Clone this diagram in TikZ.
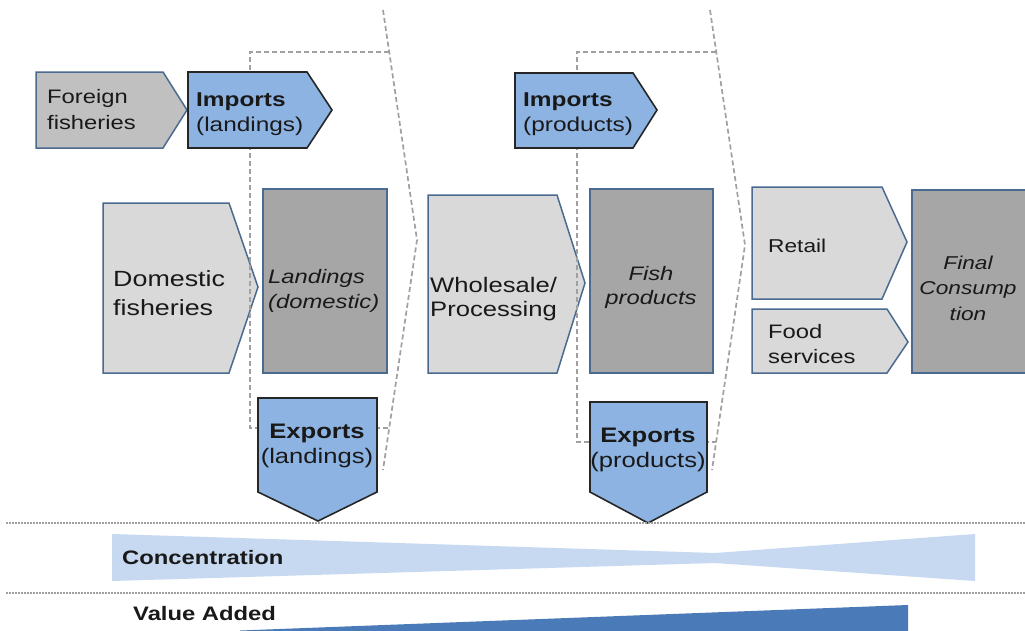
\documentclass[tikz,border=0pt]{standalone}
\usepackage{fontspec}
\setmainfont{Liberation Sans}[FakeStretch=1.22]
\newcommand\lftlines[2]{\vtop{\baselineskip=#1\relax\halign{##\hfil\cr#2\crcr}}}
\newcommand\ctrlines[2]{\vtop{\baselineskip=#1\relax\halign{\hfil##\hfil\cr#2\crcr}}}
\definecolor{lgray}{HTML}{D9D9D9}
\definecolor{mgray}{HTML}{C0C0C0}
\definecolor{dgray}{HTML}{A6A6A6}
\definecolor{bfill}{HTML}{8DB3E2}
\definecolor{bedge}{HTML}{4A6B8F}
\definecolor{dashc}{HTML}{A0A0A0}
\definecolor{dotc}{HTML}{A0A0A0}
\definecolor{concc}{HTML}{C6D9F1}
\definecolor{valc}{HTML}{4A7AB8}
\tikzset{
  grayshape/.style={draw=bedge, line width=1.5pt, line join=miter},
  blueshape/.style={draw=black!85, fill=bfill, line width=1.6pt, line join=miter},
  chevline/.style={draw=dashc, line width=1.7pt, dash pattern=on 5pt off 3pt},
  sepline/.style={draw=dotc, line width=1.2pt, dash pattern=on 1.5pt off 1.5pt},
  txt/.style={inner sep=0pt, text=black!90},
}
\begin{document}
\begin{tikzpicture}[x=1pt,y=-1pt]
\useasboundingbox[fill=white] (0,0) rectangle (1025,630);

% light gray process arrows
\draw[grayshape, fill=mgray] (36,72) -- (163,72) -- (187,110) -- (163,148) -- (36,148) -- cycle;
\draw[grayshape, fill=lgray] (103,203) -- (229,203) -- (258,287) -- (229,373) -- (103,373) -- cycle;
\draw[grayshape, fill=lgray] (428,195) -- (557,195) -- (585,283) -- (557,373) -- (428,373) -- cycle;
\draw[grayshape, fill=lgray] (752,187) -- (882,187) -- (907,242) -- (882,299) -- (752,299) -- cycle;
\draw[grayshape, fill=lgray] (752,309) -- (887,309) -- (908,342) -- (887,373) -- (752,373) -- cycle;

% dark gray boxes
\draw[grayshape, fill=dgray] (263,189) rectangle (387,373);
\draw[grayshape, fill=dgray] (590,189) rectangle (713,373);
\draw[grayshape, fill=dgray] (912,190) rectangle (1040,373);

% dashed chevrons
\draw[chevline] (383,10) -- (417,240) -- (383,470);
\draw[chevline] (389,52) -- (250,52) -- (250,428) -- (389,428);
\draw[chevline] (710,10) -- (745,245) -- (712,470);
\draw[chevline] (716,52) -- (577,52) -- (577,442) -- (716,442);

% blue import / export shapes
\draw[blueshape] (188,72) -- (307,72) -- (332,110) -- (307,148) -- (188,148) -- cycle;
\draw[blueshape] (515,73) -- (633,73) -- (657,110) -- (633,148) -- (515,148) -- cycle;
\draw[blueshape] (258,398) -- (377,398) -- (377,492) -- (318,521) -- (258,492) -- cycle;
\draw[blueshape] (590,402) -- (707,402) -- (707,492) -- (648,523) -- (590,492) -- cycle;

% separators
\draw[sepline] (6,523) -- (1025,523);
\draw[sepline] (6,593) -- (1025,593);

% concentration band and value added wedge
\fill[concc] (112,534) -- (715,553) -- (975,534) -- (975,581) -- (715,563) -- (112,581) -- cycle;
\fill[valc] (240,630.5) -- (908,605) -- (908,632) -- (240,632) -- cycle;

% texts
\node[txt, anchor=base west, font=\fontsize{19.5}{24}\selectfont] (foreign) at (47,103) {\lftlines{26pt}{Foreign\cr fisheries}};
\node[txt, anchor=base west, font=\fontsize{20}{24}\selectfont] (impl) at (196,106) {\lftlines{25pt}{\textbf{Imports}\cr (landings)}};
\node[txt, anchor=base west, font=\fontsize{20}{24}\selectfont] (impp) at (523,106) {\lftlines{25pt}{\textbf{Imports}\cr (products)}};
\node[txt, anchor=base west, font=\fontsize{22}{26}\selectfont] (domestic) at (113,286) {\lftlines{29pt}{Domestic\cr fisheries}};
\node[txt, anchor=base west, font=\fontsize{19.5}{24}\selectfont\itshape] (landings) at (268,283) {\lftlines{25pt}{Landings\cr (domestic)}};
\node[txt, anchor=base, font=\fontsize{21}{25}\selectfont] (expl) at (317,438) {\ctrlines{25pt}{\textbf{Exports}\cr (landings)}};
\node[txt, anchor=base west, font=\fontsize{21}{25}\selectfont] (wholesale) at (430,292) {\lftlines{24pt}{Wholesale/\cr Processing}};
\node[txt, anchor=base, font=\fontsize{19.5}{24}\selectfont\itshape] (fish) at (651,280) {\ctrlines{24pt}{Fish\cr products}};
\node[txt, anchor=base, font=\fontsize{21}{25}\selectfont] (expp) at (648,442) {\ctrlines{25pt}{\textbf{Exports}\cr (products)}};
\node[txt, anchor=base west, font=\fontsize{18.6}{23}\selectfont] (retail) at (768,252) {Retail};
\node[txt, anchor=base west, font=\fontsize{19.5}{24}\selectfont] (food) at (768,338) {\lftlines{25pt}{Food\cr services}};
\node[txt, anchor=base, font=\fontsize{18.6}{23}\selectfont\itshape] (final) at (968,269) {\ctrlines{25.5pt}{Final\cr Consump\cr tion}};
\node[txt, anchor=base west, font=\fontsize{19.5}{24}\selectfont\bfseries] (conc) at (122,564) {Concentration};
\node[txt, anchor=base west, font=\fontsize{19.5}{24}\selectfont\bfseries] (value) at (133,620) {Value Added};
\end{tikzpicture}
\end{document}
